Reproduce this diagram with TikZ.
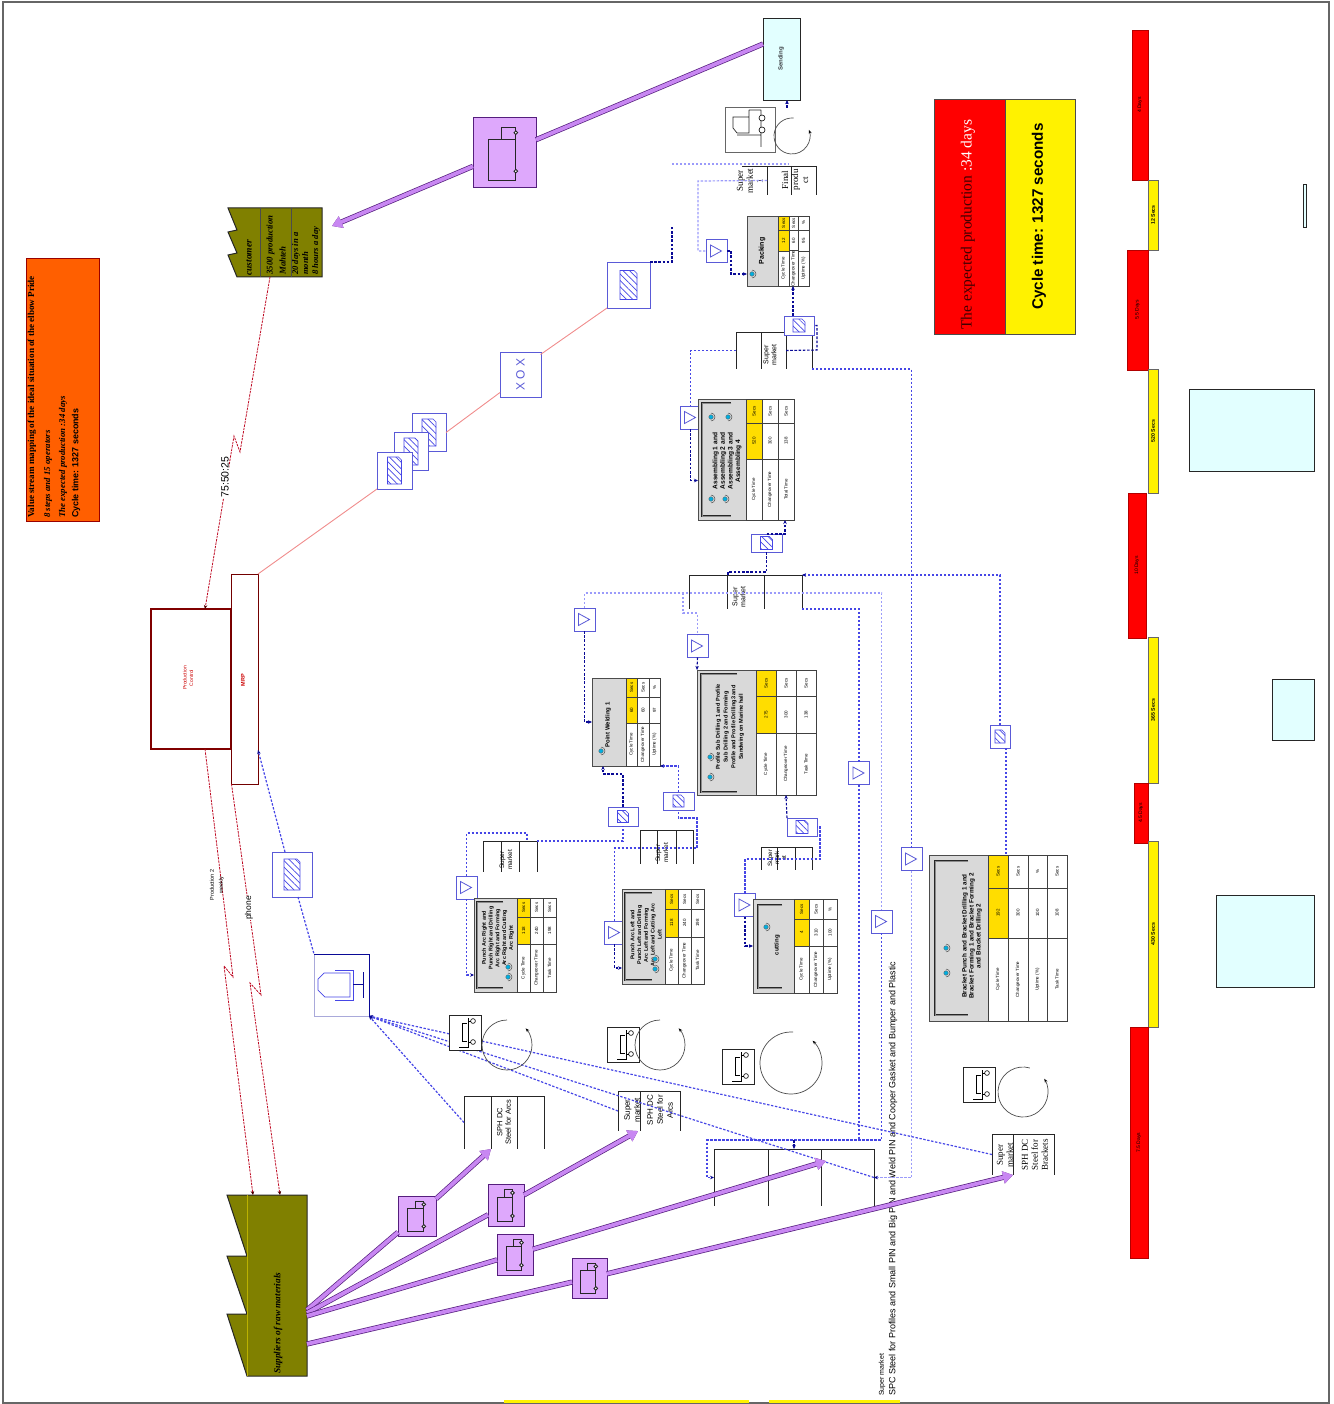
\documentclass[tikz,border=0pt]{standalone}
\usepackage{fontspec}
\setmainfont{Liberation Serif}
\setsansfont{Liberation Sans}
\usepackage{xcolor}
\usepackage{tikz}
\usetikzlibrary{positioning,arrows.meta,calc,patterns.meta}

\definecolor{sigdark}{RGB}{10,10,150}
\definecolor{sigmid}{RGB}{70,70,230}
\definecolor{siglite}{RGB}{155,155,250}
\definecolor{kanedge}{RGB}{90,90,215}
\definecolor{pushfill}{RGB}{200,135,242}
\definecolor{pushedge}{RGB}{85,30,125}
\definecolor{truckfill}{RGB}{222,168,252}
\definecolor{cyanfill}{RGB}{226,255,255}
\definecolor{oliveA}{RGB}{128,128,0}
\definecolor{orangeA}{RGB}{255,95,0}
\definecolor{procyel}{RGB}{255,221,0}
\definecolor{redsig}{RGB}{190,10,35}
\definecolor{pinkl}{RGB}{240,140,140}
\definecolor{opcyan}{RGB}{0,175,225}

\newcommand{\fs}[2]{\fontsize{#1}{#2}\selectfont}
% plain box and box with turned text, given by corners
\newcommand{\rbox}[7]{\node[boxbase,#6,minimum width=#4-#2,minimum height=#5-#3] (#1) at ({(#2+#4)/2},{-(#3+#5)/2}) {#7};}
\newcommand{\tcell}[7]{\node[boxbase,#6,rotate=90,minimum width=#5-#3,minimum height=#4-#2] (#1) at ({(#2+#4)/2},{-(#3+#5)/2}) {#7};}
% process box: name, corners, table left, two row splits, rows
\newcommand{\procbox}[9]{
  \rbox{#1}{#2}{#3}{#4}{#5}{procbody}{}
  \foreach \xa/\xb/\lab/\val/\uni/\fil [count=\r] in {#9}{
    \tcell{#1u\r}{\xa}{#3}{\xb}{#7}{tabcell,fill=\fil}{\uni}
    \tcell{#1v\r}{\xa}{#7}{\xb}{#8}{tabcell,fill=\fil}{\val}
    \tcell{#1l\r}{\xa}{#8}{\xb}{#5}{tabcell}{\lab}
  }
}
\newcommand{\oper}[3]{\node[opdot] (#1) at (#2,-#3) {}; \draw[black!70,line width=.5pt] (#2,-#3-4) arc[start angle=-90,end angle=90,radius=4pt];}
\newcommand{\brkt}[4]{\draw[brktline] (#4,-#2) -- (#1,-#2) -- (#1,-#3) -- (#4,-#3);}
% signal triangle in its box, by centre
\newcommand{\tribox}[3]{\node[flagbox] (#1) at (#2,-#3) {}; \draw[kanedge,line width=.8pt] (#2-6,-#3-6) -- (#2+5,-#3) -- (#2-6,-#3+6) -- cycle;}
% kanban box: name, centre, size, size of the card
\newcommand{\kanbox}[7]{\node[kanframe,minimum width=#4,minimum height=#5] (#1) at (#2,-#3) {};
  \begin{scope}[shift={(#2,-#3)}]\draw[kanhatch] (-#6/2,-#7/2) -- (#6/2,-#7/2) -- (#6/2,#7/2-3) -- (#6/2-3,#7/2) -- (-#6/2,#7/2) -- cycle;\end{scope}}
\newcommand{\smkt}[6]{\rbox{#1}{#2}{#3}{#4}{#5}{draw=none}{}
  \draw[smline] (#2,-#3) -- (#4,-#3);
  \foreach \xv in {#6}{\draw[smline] (\xv,-#3) -- (\xv,-#5);}}
\newcommand{\truck}[5]{\rbox{#1}{#2}{#3}{#4}{#5}{truckbox}{}
  \pgfmathsetmacro\trW{#4-#2}\pgfmathsetmacro\trH{#5-#3}
  \begin{scope}[shift={(#2,-#3)},x=\trW pt,y=\trH pt,line width=.9pt,draw=black!85]
    \draw (.25,-.31) rectangle (.68,-.89);
    \draw (.45,-.31) -- (.45,-.13) -- (.68,-.13) -- (.68,-.31);
    \draw[fill=white] (.68,-.21) circle[radius=1.8pt];
    \draw[fill=white] (.68,-.76) circle[radius=1.8pt];
  \end{scope}}
\newcommand{\forklift}[3]{\rbox{#1}{#2}{#3}{#2+32}{#3+35}{fkbox}{}
  \begin{scope}[shift={(#2,-#3)},line width=.6pt]
    \draw (19,-3) -- (19,-32) -- (10,-32);
    \draw (18,-8) -- (13,-8) -- (13,-26) -- (18,-26);
    \draw (19,-6) -- (22,-6); \draw (19,-27) -- (22,-27);
    \draw (24,-6) circle[radius=2.4pt]; \draw (24,-27) circle[radius=2.4pt];
  \end{scope}}
\newcommand{\cyc}[5]{\draw[cycline] (#1,-#2) ++(#4:#3) arc[start angle=#4,end angle=#5,radius=#3pt];}

\begin{document}
\begin{tikzpicture}[x=1pt,y=1pt,>={Stealth[length=4pt,width=3.5pt,color=sigdark]},
  boxbase/.style={draw,inner sep=0pt,outer sep=0pt},
  procbody/.style={draw=black!70,fill=black!15,line width=.9pt},
  tabcell/.style={draw=black!75,fill=white,line width=.6pt,font=\sffamily\fs{4.5}{5}},
  protitle/.style={rotate=90,align=center,inner sep=0pt,font=\sffamily\bfseries\fs{5.6}{7}},
  opdot/.style={circle,draw=black!60,fill=opcyan,minimum size=4.5pt,inner sep=0pt},
  brktline/.style={draw=black!85,line width=.4pt,double=black!45,double distance=1pt},
  flagbox/.style={draw=kanedge,fill=white,minimum width=21pt,minimum height=23pt,inner sep=0pt,outer sep=0pt,line width=.8pt},
  kanframe/.style={draw=kanedge,fill=white,inner sep=0pt,outer sep=0pt,line width=.8pt},
  kanhatch/.style={draw=sigmid,pattern={Lines[angle=-45,distance=4.5pt,line width=.7pt]},pattern color=sigmid,line width=.6pt},
  smline/.style={draw=black!85,line width=.9pt},
  smtext/.style={rotate=90,align=center,inner sep=0pt,font=\sffamily\fs{7}{8}},
  smserif/.style={rotate=90,align=center,inner sep=0pt,font=\fs{9}{10}},
  truckbox/.style={draw=pushedge,fill=truckfill,line width=1pt},
  fkbox/.style={draw=black!85,fill=white,line width=.8pt},
  cycline/.style={draw=black!70,line width=.7pt,-{Stealth[length=4pt,width=3pt,color=black]}},
  sig/.style={draw=sigmid,dash pattern=on 2.4pt off 1.6pt,line width=1.2pt},
  sigd/.style={draw=sigdark,dash pattern=on 2.6pt off 1.6pt,line width=1.1pt},
  sigl/.style={draw=siglite,dash pattern=on 2.4pt off 1.6pt,line width=1.2pt},
  redd/.style={draw=redsig,dash pattern=on 2.4pt off 1pt,line width=.8pt},
  redarr/.style={-{Stealth[length=4pt,width=3.5pt,color=black!70!red]}},
  pink/.style={draw=pinkl,line width=.9pt},
  pushline/.style={draw=pushfill,line width=3.8pt,preaction={draw=pushedge,line width=5.2pt}},
  pusharr/.style={pushline,-{Triangle[length=10pt,width=12pt]}},
  redbar/.style={fill=red,draw=red!70!black,line width=.5pt,font=\sffamily\fs{5}{6}},
  yelbar/.style={fill=yellow,draw=black!60,line width=.5pt,font=\sffamily\bfseries\fs{5.2}{6}},
  cyanbox/.style={draw=black!85,fill=cyanfill,line width=.9pt}]
  \useasboundingbox (0,0) rectangle (1333,-1404);
  \rbox{page}{3}{2}{1329}{1403}{draw=black!60,line width=1.4pt}{}
  \rbox{stripA}{504}{1400}{749}{1403}{draw=none,fill=yellow}{}
  \rbox{stripB}{769}{1400}{900}{1403}{draw=none,fill=yellow}{}
  % heading
  \rbox{head}{26}{258}{99}{521}{fill=orangeA,draw=red!60!black,line width=.8pt}{}
  \node[rotate=90,anchor=west,inner sep=0pt,font=\bfseries\fs{9.1}{10}] (headA) at (32,-518) {Value stream mapping of the ideal situation of the elbow Pride};
  \node[rotate=90,anchor=west,inner sep=0pt,font=\bfseries\itshape\fs{8.8}{10}] (headB) at (48,-518) {8 steps and 15 operators};
  \node[rotate=90,anchor=west,inner sep=0pt,font=\bfseries\itshape\fs{8.8}{10}] (headC) at (63,-518) {The expected production :34 days};
  \node[rotate=90,anchor=west,inner sep=0pt,font=\sffamily\bfseries\fs{8.9}{10}] (headD) at (76,-518) {Cycle time: 1327 seconds};
  % totals
  \tcell{totA}{934}{99}{1005}{334}{fill=red,draw=black!70,line width=.8pt}{}
  \tcell{totB}{1005}{99}{1075}{334}{fill=yellow,draw=black!70,line width=.8pt}{}
  \node[rotate=90,anchor=west,inner sep=0pt,font=\fs{15.5}{18}] (totAt) at (968,-330) {\textcolor{red!25!black}{The expected production} \textcolor{white}{:34 days}};
  \node[rotate=90,anchor=west,inner sep=0pt,font=\sffamily\bfseries\fs{15.2}{17}] (totBt) at (1039,-310) {Cycle time: 1327 seconds};
  % timeline
  \tcell{tlA}{1132}{30}{1148}{180}{redbar}{4 Days}
  \tcell{tlB}{1148}{180}{1158}{250}{yelbar}{12 Secs}
  \tcell{tlC}{1127}{250}{1148}{370}{redbar}{5.5 Days}
  \tcell{tlD}{1148}{369}{1158}{493}{yelbar}{520 Secs}
  \tcell{tlE}{1128}{493}{1146}{638}{redbar}{10 Days}
  \tcell{tlF}{1148}{637}{1158}{783}{yelbar}{365 Secs}
  \tcell{tlG}{1134}{783}{1148}{843}{redbar}{4.5 Days}
  \tcell{tlH}{1148}{841}{1158}{1027}{yelbar}{430 Secs}
  \tcell{tlI}{1130}{1027}{1148}{1258}{redbar}{7.5 Days}
  \rbox{cyA}{1303}{184}{1306}{227}{cyanbox,line width=.6pt}{}
  \rbox{cyB}{1189}{389}{1314}{471}{cyanbox}{}
  \rbox{cyC}{1272}{679}{1314}{740}{cyanbox}{}
  \rbox{cyD}{1216}{895}{1314}{987}{cyanbox}{}
  % factories
  \draw[draw=black!85,fill=oliveA,line width=1pt] (228,-208) -- (237,-230) -- (228,-232) -- (237,-253) -- (228,-255) -- (237,-277) -- (322,-277) -- (322,-208) -- cycle;
  \draw[black!70,line width=.7pt] (260,-208) -- (260,-277) (291,-208) -- (291,-277);
  \node[rotate=90,anchor=west,inner sep=0pt,font=\bfseries\itshape\fs{9.5}{10}] (custA) at (249,-276) {customer};
  \node[rotate=90,anchor=west,align=left,inner sep=0pt,font=\bfseries\itshape\fs{8.8}{13}] (custB) at (276,-275) {3500 production\\Mahteh};
  \node[rotate=90,anchor=west,align=left,inner sep=0pt,font=\bfseries\itshape\fs{8.6}{10}] (custC) at (306,-275) {20 days in a\\month\\8 hours a day};
  \coordinate (custP) at (332,-226);
  \coordinate (custQ) at (270,-277);
  \draw[draw=black!85,fill=oliveA,line width=1pt] (227,-1195) -- (247,-1256) -- (227,-1256) -- (247,-1314) -- (227,-1314) -- (247,-1376) -- (307,-1376) -- (307,-1195) -- cycle;
  \draw[olive!60!yellow,line width=.5pt] (247,-1195) -- (247,-1376);
  \node[rotate=90,anchor=west,inner sep=0pt,font=\bfseries\itshape\fs{9.3}{10}] (supt) at (278,-1374) {Suppliers of raw materials};
  \coordinate (supA) at (253,-1195);
  \coordinate (supF) at (280,-1195);
  \coordinate (supB) at (307,-1310);
  \coordinate (supC) at (307,-1313);
  \coordinate (supD) at (307,-1316);
  \coordinate (supE) at (307,-1344);
  % control
  \rbox{pc}{151}{609}{231}{749}{draw=red!50!black,fill=white,line width=1.2pt}{}
  \rbox{mrp}{231}{574}{258}{784}{draw=red!45!black,fill=white,line width=1pt}{}
  \node[rotate=90,align=center,inner sep=0pt,text=red!80!black,font=\sffamily\fs{5}{6.5}] (pct) at (188,-678) {Production\\Control};
  \node[rotate=90,inner sep=0pt,text=red!80!black,font=\sffamily\bfseries\fs{5.5}{6}] (mrpt) at (243,-680) {MRP};
  \draw[redd,redarr] (custQ) -- (240,-452) -- (234,-436) -- ([xshift=14pt]pc.north);
  \node[rotate=90,fill=white,inner sep=.5pt,font=\sffamily\fs{10.5}{12}] (ratio) at (225,-477) {75:50:25};
  \draw[redd,redarr] ([xshift=14pt]pc.south) -- (233,-977) -- (224,-966) -- (supA);
  \draw[redd,redarr] ([xshift=-13pt]mrp.south) -- (261,-995) -- (250,-983) -- (supF);
  \node[rotate=90,align=center,inner sep=0pt,font=\sffamily\fs{5.5}{9}] (weekly) at (217,-885) {Production 2\\weekly};
  \node[rotate=90,fill=white,inner sep=.5pt,font=\sffamily\fs{8.5}{10}] (phone) at (249,-908) {phone};
  % schedule posts
  \kanbox{kanS}{429}{432.5}{34}{38}{14}{27}
  \kanbox{kanR}{411}{451.5}{34}{38}{14}{27}
  \kanbox{kanQ}{394.5}{470.5}{35}{37}{14}{27}
  \node[kanframe,minimum width=45pt,minimum height=41pt,rotate=90,font=\sffamily\fs{12}{14},text=kanedge] (xox) at (520.5,-374.5) {X O X};
  \kanbox{kanT}{628.5}{285}{43}{46}{17}{29}
  \draw[pink] (mrp.north east) -- (kanQ.south west);
  \draw[pink] (kanS.east) -- ([yshift=-18pt]xox.north);
  \draw[pink] ([xshift=20pt,yshift=20pt]xox.center) -- (kanT.south west);
  \draw[sigd] (kanT.north east) -- (672,-262) -- (672,-226);
  % shipping
  \rbox{send}{763}{18}{800}{100}{draw=black!85,fill=cyanfill,line width=.9pt}{}
  \node[rotate=90,inner sep=0pt,font=\sffamily\bfseries\fs{6}{7},text=black!85!cyan] (sendt) at (781,-59) {Sending};
  \truck{trTop}{473}{118}{536}{188}
  \draw[pushline] ([yshift=15pt]send.west) -- (trTop);
  \draw[pusharr] (trTop) -- (custP);
  \rbox{fkTop}{725}{107}{775}{152}{fkbox,draw=black!60,line width=.7pt}{}
  \draw[black!85,line width=.7pt] (761,-110) -- (761,-147) (749,-110) -- (761,-110) (749,-110) -- (749,-133) -- (737,-133) -- (733,-128) -- (733,-117) -- (749,-117) (737,-135) -- (761,-135);
  \draw[fill=white,line width=.6pt] (762,-118) circle[radius=3pt] (762,-130) circle[radius=3pt];
  \cyc{792}{136}{18}{85}{380}
  \coordinate (fkTopP) at (787,-108);
  \draw[sigd,->] (fkTopP) -- ([xshift=5.5pt]send.south);
  % finished goods and packing
  \coordinate (topA) at (672,-164);
  \coordinate (topB) at (789,-164);
  \draw[sigl] (topA) -- (topB);
  \smkt{smFin}{742}{166}{816}{195}{767,791,816}
  \node[smserif] (smFinA) at (750,-181) {Super\\market\\1};
  \node[smserif] (smFinB) at (795,-180) {Final\\produ\\ct};
  \tribox{triPack}{716.5}{251}
  \procbox{pack}{747}{216}{809}{286}{778}{230}{251}{778/789/Cycle Time/12/Secs/procyel,789/798/Changeover Time/60/Secs/white,798/809/Uptime (\%)/95/\%/white}
  \node[protitle,font=\sffamily\bfseries\fs{7}{8}] (packt) at (762,-251) {Packing};
  \oper{packo}{752}{274}
  \draw[sigl] ([xshift=25pt]smFin.west) -- (698,-181) |- (triPack.west);
  \draw[sigd,->] (triPack.east) -- (731,-251) |- ([yshift=-23pt]pack.west);
  % assembling
  \smkt{smA}{736}{332}{812}{369}{736,761,786,812}
  \node[smtext] (smAt) at (770,-355) {Super\\market};
  \kanbox{kanPack}{799}{325.5}{30}{19}{12}{13}
  \draw[sigd,->] ([xshift=-6pt]kanPack.north) -- ([xshift=15pt]pack.south);
  \tribox{triAsy}{690.5}{417.5}
  \procbox{asy}{698}{399}{794}{520}{746}{423}{459}{746/762/Cycle Time/520/Secs/procyel,762/778/Changeover Time/300/Secs/white,778/794/Total Time/138/Secs/white}
  \node[protitle,font=\sffamily\bfseries\fs{6.6}{7.6}] (asyt) at (727,-461) {Assembling 1 and\\Assembling 2 and\\Assembling 3 and\\Assembling 4};
  \oper{asyoA}{711}{417}\oper{asyoB}{728}{417}\oper{asyoC}{711}{499}\oper{asyoD}{725}{499}
  \brkt{702}{403}{516}{731}
  \draw[sig] (smA.west) -| (triAsy.north);
  \draw[sigd,->] (triAsy.south) |- ([yshift=-21pt]asy.west);
  \draw[sigd] (smA.center) ++(12,0) -- (817,-350) |- (kanPack.east);
  \kanbox{kanAsy}{766.5}{543}{31}{18}{12}{13}
  \draw[sigd,->] (kanAsy.north) -| ([xshift=39pt]asy.south);
  \smkt{smB}{689}{575}{802}{609}{689,727,764,802}
  \node[smtext] (smBt) at (739,-597) {Super\\market};
  \draw[sigd] (kanAsy.south) -- (766.5,-572) -| ([xshift=-17.5pt]smB.north);
  % shared signal loops
  \tribox{triM}{911.5}{859}
  \tribox{triN}{881.5}{921.5}
  \tribox{triE}{859}{773}
  \tribox{triWeld}{584.5}{619.5}
  \tribox{triProf}{697.5}{646}
  % raw material shelves
  \smkt{smR1}{464}{1096}{544}{1149}{464,491,517,544}
  \node[smtext,font=\sffamily\fs{7.5}{8.5}] (smRat) at (504,-1122) {SPH DC\\Steel for Arcs};
  \smkt{smR2}{618}{1091}{680}{1131}{618,640,680}
  \node[smtext,font=\sffamily\fs{8}{10}] (smRbA) at (632,-1110) {Super\\market};
  \node[smtext,font=\sffamily\fs{8}{10}] (smRbB) at (660,-1110) {SPH DC\\Steel for\\Arcs};
  \smkt{smR3}{714}{1149}{874}{1206}{714,768,821,874}
  \smkt{smR4}{992}{1134}{1054}{1175}{992,1013,1054}
  \node[smserif] (smRdA) at (1005,-1155) {Super\\market};
  \node[smserif] (smRdB) at (1035,-1155) {SPH DC\\Steel for\\Brackets};
  \node[rotate=90,anchor=west,inner sep=0pt,font=\sffamily\fs{7}{8}] (rawA) at (882,-1396) {Super market};
  \node[rotate=90,anchor=west,inner sep=0pt,font=\sffamily\fs{9}{10}] (rawB) at (893,-1396) {SPC Steel for Profiles and Small PIN and Big PIN and Weld PIN and Cooper Gasket and Bumper and Plastic};
  \draw[sig] (smA.south east) -| (triM.north);
  \draw[sigl,->] (triM.south) |- (smR3.east);
  \draw[sigl] (triWeld.north) -- (584.5,-593) -- (881.5,-593) -- (triN.north);
  \draw[sig,->] (triN.south) -- (881.5,-1140) -- (707,-1140) |- (smR3.west);
  \coordinate (splitA) at (683,-593);
  \draw[sigl] (splitA) -- (683,-613) -| (triProf.north);
  \draw[sig] (smB.south east) -| (triE.north);
  \coordinate (joinB) at (859,-1140);
  \draw[sig] (triE.south) -- (joinB);
  \coordinate (joinC) at (794,-1140);
  \draw[sigd,->] (joinC) -- (794,-1149);
  % welding and profile cells
  \procbox{weld}{592}{678}{660}{766}{626}{697}{723}{626/637/Cycle Time/60/Secs/procyel,637/649/Changeover Time/60/Secs/white,649/660/Uptime (\%)/97/\%/white}
  \node[protitle,font=\sffamily\bfseries\fs{6}{7}] (weldt) at (608,-725) {Point Welding 1};
  \oper{weldo}{601}{751}
  \draw[sigd,->] (triWeld.south) |- (weld.west);
  \procbox{prof}{697}{670}{816}{795}{756}{696}{733}{756/776/Cycle Time/275/Secs/procyel,776/796/Changeover Time/300/Secs/white,796/816/Task Time/138/Secs/white}
  \node[protitle,font=\sffamily\bfseries\fs{5.6}{7.7}] (proft) at (730,-727) {Profile Sub Drilling 1 and Profile\\Sub Drilling 2 and Forming\\Profile and Profile Drilling3 and\\Sandwing on Marine hall};
  \oper{profoA}{710}{757}\oper{profoB}{710}{777}
  \brkt{701}{674}{792}{737}
  \draw[sigd,->] (triProf.south) -- (prof.north west);
  \smkt{smC}{640}{830}{693}{864}{640,657,676,693}
  \node[smtext,font=\sffamily\fs{6.5}{8}] (smCt) at (662,-853) {Super\\market};
  \smkt{smD}{483}{841}{537}{872}{483,501,519,537}
  \node[smtext,font=\sffamily\fs{6.5}{8}] (smDt) at (506,-860) {Super\\market};
  \smkt{smE}{761}{847}{812}{870}{761,777,795,812}
  \node[smtext,font=\sffamily\fs{6.2}{7}] (smEt) at (777,-858) {Super\\mark\\et};
  \kanbox{kanBr}{1000}{736.5}{20}{23}{10}{13}
  \kanbox{kanWA}{623}{816.5}{30}{19}{11}{12}
  \kanbox{kanWB}{678.5}{801}{31}{18}{11}{12}
  \kanbox{kanCut}{802}{827}{30}{18}{12}{13}
  \tribox{triPR}{466.5}{887.5}
  \tribox{triPL}{614.5}{932.5}
  \tribox{triCut}{745}{905}
  % punching, cutting and bracket cells
  \procbox{punR}{474}{898}{556}{992}{517}{917}{944}{517/530/Cycle Time/118/Secs/procyel,530/543/Changeover Time/240/Secs/white,543/556/Task Time/198/Secs/white}
  \node[protitle,font=\sffamily\bfseries\fs{5.4}{6.8}] (punRt) at (498,-938) {Punch Arc Right and\\Punch Right and Drilling\\Arc Right and Forming\\Arc Right and Cutting\\Arc Right};
  \oper{punRoA}{508}{967}\oper{punRoB}{508}{977}
  \brkt{477}{902}{988}{503}
  \procbox{punL}{622}{889}{704}{984}{665}{909}{937}{665/678/Cycle Time/118/Secs/procyel,678/691/Changeover Time/240/Secs/white,691/704/Task Time/198/Secs/white}
  \node[protitle,font=\sffamily\bfseries\fs{5.4}{6.8}] (punLt) at (646,-935) {Punch Arc Left and\\Punch Left and Drilling\\Arc Left and Forming\\Arc Left and Cutting Arc\\Left};
  \oper{punLoA}{655}{959}\oper{punLoB}{655}{969}
  \brkt{625}{893}{980}{652}
  \procbox{cutt}{753}{899}{837}{993}{794}{919}{946}{794/809/Cycle Time/4/Secs/procyel,809/823/Changeover Time/310/Secs/white,823/837/Uptime (\%)/100/\%/white}
  \node[protitle,font=\sffamily\bfseries\fs{6}{7}] (cutto) at (777,-945) {cutting};
  \oper{cuttop}{766}{927}
  \brkt{758}{905}{988}{782}
  \procbox{brk}{929}{855}{1067}{1021}{988}{888}{938}{988/1008/Cycle Time/192/Secs/procyel,1008/1028/Changeover Time/300/Secs/white,1028/1047/Uptime (\%)/100/\%/white,1047/1067/Task Time/108/Secs/white}
  \node[protitle,font=\sffamily\bfseries\fs{6.3}{6.9}] (brkt) at (972,-936) {Bracket Punch and Bracket Drilling 1 and\\Bracket Forming 1 and Bracket Forming 2\\and Bracket Drilling 2};
  \oper{brkoA}{946}{948}\oper{brkoB}{946}{973}
  \brkt{935}{861}{1015}{968}
  % pull signals between cells
  \draw[sig,->] (kanBr.north) |- (smB.north east);
  \draw[sig] ([xshift=6pt]kanBr.south) -- ([xshift=8pt]brk.north);
  \draw[sig] (triPR.north) -- (466.5,-833) -| ([xshift=17pt]smD.north);
  \draw[sig,->] (triPR.south) |- ([yshift=-30pt]punR.west);
  \draw[sig] (smD.north east) -| (kanWA.south);
  \draw[sigd,->] (kanWA.north) -- (623,-774) -| ([xshift=-23pt]weld.south);
  \draw[sig] (triPL.north) -- (614.5,-848) -- (697,-848) -- (697,-818) -| (kanWB.south);
  \draw[sig,->] (kanWB.north) |- (weld.south east);
  \draw[sigd,->] (triPL.south) |- ([yshift=-31.5pt]punL.west);
  \draw[sig] (triCut.north) -- (745,-859) -- (820,-859) |- (kanCut.east);
  \draw[sigd,->] (kanCut.north west) -- ([xshift=29.5pt]prof.south);
  \draw[sigd,->] (triCut.south) |- (cutt.west);
  % supply loop
  \kanbox{kanL}{292}{874.5}{40}{45}{16}{31}
  \rbox{psup}{314}{954}{369}{1016}{draw=sigdark,draw opacity=.35,fill=white,line width=.8pt}{}
  \draw[sigdark,line width=.9pt] (314,-954) -- (369,-954) -- (369,-1016);
  \draw[sigmid,line width=.7pt] (318,-979) -- (324,-973) -- (350,-973) -- (350,-997) -- (325,-997) -- (318,-990) -- cycle;
  \draw[sigmid,line width=.7pt] (335,-970) -- (353,-970) -- (353,-1000) -- (335,-1000);
  \draw[sigdark,line width=.7pt] (353,-984) -- (363,-984) (363,-972) -- (363,-998);
  \draw[sig,->] ([xshift=-7pt]kanL.north) -- ([yshift=-71pt]mrp.east);
  \draw[sig] ([xshift=6pt]kanL.south) -- (psup.north west);
  \draw[sig,->] (smR1.west) -- (psup.south east);
  \draw[sig,->] (smR2.west) -- (psup.south east);
  \draw[sig,->] (smR3.east) -- (psup.south east);
  \draw[sig,->] (smR4.west) -- (psup.south east);
  % forklifts
  \forklift{fkA}{449}{1015}
  \cyc{507}{1045}{25}{90}{402}
  \forklift{fkB}{607}{1027}
  \cyc{660}{1045}{25}{90}{402}
  \forklift{fkC}{722}{1049}
  \cyc{791}{1063}{31}{86}{406}
  \forklift{fkD}{963}{1067}
  \cyc{1023}{1092}{25}{74}{392}
  % trucks from the suppliers
  \truck{trA}{398}{1196}{436}{1236}
  \truck{trB}{488}{1184}{524}{1226}
  \truck{trC}{497}{1234}{533}{1275}
  \truck{trD}{572}{1258}{607}{1298}
  \draw[pushline] (supB) -- (trA);
  \draw[pushline] (supC) -- (trB);
  \draw[pushline] (supD) -- (trC);
  \draw[pushline] (supE) -- (trD);
  \draw[pusharr] (trA) -- ([xshift=-13pt]smR1.south);
  \draw[pusharr] (trB) -- ([xshift=-11pt]smR2.south);
  \draw[pusharr] (trC) -- ([xshift=32pt,yshift=16.5pt]smR3.center);
  \draw[pusharr] (trD) -- ([xshift=-10pt]smR4.south);
\end{tikzpicture}
\end{document}
